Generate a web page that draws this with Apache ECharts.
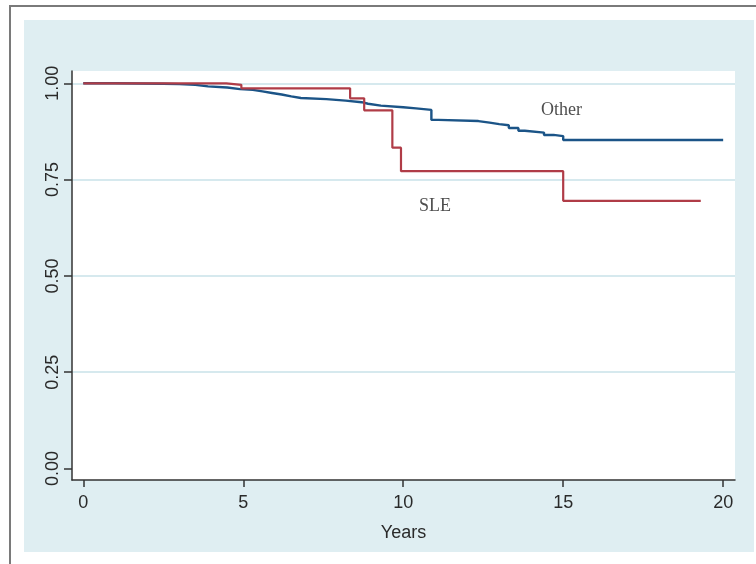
<!DOCTYPE html>
<html lang="en">
  <head>
    <meta charset="UTF-8" />
    <title>Kaplan-Meier: SLE vs Other</title>
    <style>
      html, body { margin: 0; padding: 0; background: #fff; }
      #frame {
        position: absolute; left: 9px; top: 5px; width: 760px; height: 570px;
        border-top: 2px solid #7a7a7a; border-left: 2px solid #7a7a7a;
      }
      #main {
        position: absolute; left: 24px; top: 20px; width: 730px; height: 532px;
      }
    </style>
  </head>
  <body>
    <div id="frame"></div>
    <div id="main"></div>
    <script src="https://cdn.jsdelivr.net/npm/echarts@6.0.0/dist/echarts.min.js"></script>
    <script>
      // survival estimates (time in years, survival after that time)
      const otherTimes = [0, 1.0, 2.5, 3.0, 3.5, 3.9, 4.5, 4.9, 5.3, 5.6, 5.9, 6.2, 6.5, 6.8, 7.6, 8.2, 8.7, 8.9, 9.3, 10.0, 10.4, 10.88, 11.1, 12.35, 12.7, 13.0, 13.3, 13.6, 13.8, 14.4, 14.7, 15.0, 20.0];
      const otherSurv  = [1.0, 0.999, 0.998, 0.996, 0.992, 0.989, 0.985, 0.983, 0.979, 0.975, 0.971, 0.966, 0.962, 0.959, 0.955, 0.951, 0.947, 0.942, 0.938, 0.935, 0.931, 0.905, 0.902, 0.898, 0.894, 0.891, 0.884, 0.877, 0.872, 0.866, 0.863, 0.853, 0.853];

      const sleTimes = [0, 4.47, 4.94, 8.34, 8.78, 9.66, 9.93, 15.0, 19.3];
      const sleSurv  = [1.0, 0.996, 0.987, 0.961, 0.930, 0.833, 0.772, 0.695, 0.695];

      const xTicks = [0, 5, 10, 15, 20];
      const yTicks = [0, 0.25, 0.5, 0.75, 1];

      // curve labels placed in data units
      const labelNames = ["Other", "SLE"];
      const labelX = [14.95, 10.99];
      const labelY = [0.929, 0.681];

      const otherData = otherTimes.map((t, i) => [t, otherSurv[i]]);
      const sleData = sleTimes.map((t, i) => [t, sleSurv[i]]);

      var chartDom = document.getElementById("main");
      var myChart = echarts.init(chartDom);
      var axisFont = "'Liberation Sans', Arial, sans-serif";

      myChart.setOption({
        animation: false,
        backgroundColor: "#dfeef2",
        grid: {
          left: 48,
          right: 19,
          top: 51,
          bottom: 72,
          show: true,
          backgroundColor: "#ffffff",
          borderWidth: 0,
        },
        xAxis: {
          type: "value",
          min: -0.353,
          max: 20.37,
          name: "Years",
          nameLocation: "middle",
          nameGap: 44,
          nameTextStyle: { fontFamily: axisFont, fontSize: 18, color: "#2a2a2a" },
          axisLine: { onZero: false, lineStyle: { color: "#333", width: 1.5 } },
          axisTick: { customValues: xTicks, length: 7, lineStyle: { color: "#333", width: 1.5 } },
          axisLabel: {
            customValues: xTicks,
            margin: 14,
            fontFamily: axisFont,
            fontSize: 18,
            color: "#2a2a2a",
          },
          splitLine: { show: false },
        },
        yAxis: {
          type: "value",
          min: -0.03,
          max: 1.032,
          axisLine: { show: true, onZero: false, lineStyle: { color: "#333", width: 1.5 } },
          axisTick: { show: true, customValues: yTicks, length: 8, lineStyle: { color: "#333", width: 1.5 } },
          axisLabel: {
            customValues: yTicks,
            rotate: 90,
            margin: 10,
            fontFamily: axisFont,
            fontSize: 18,
            color: "#2a2a2a",
            formatter: (v) => v.toFixed(2),
          },
          splitLine: {
            show: true,
            lineStyle: { color: ["rgba(0,0,0,0)", "#d6e9ee", "#d6e9ee", "#d6e9ee", "#d6e9ee"], width: 2 },
          },
        },
        series: [
          {
            name: "Other",
            type: "line",
            step: "end",
            data: otherData,
            showSymbol: false,
            lineStyle: { color: "#1b5487", width: 2.4 },
            z: 2,
          },
          {
            name: "SLE",
            type: "line",
            step: "end",
            data: sleData,
            showSymbol: false,
            lineStyle: { color: "#b03c47", width: 2.2 },
            z: 3,
          },
          {
            name: "labels",
            type: "scatter",
            symbolSize: 0,
            data: labelNames.map((n, i) => ({ name: n, value: [labelX[i], labelY[i]] })),
            label: {
              show: true,
              position: "inside",
              formatter: (p) => p.name,
              fontFamily: "'Liberation Serif', 'Times New Roman', serif",
              fontSize: 18,
              color: "#222",
            },
            silent: true,
            z: 4,
          },
        ],
      });
    </script>
  </body>
</html>
